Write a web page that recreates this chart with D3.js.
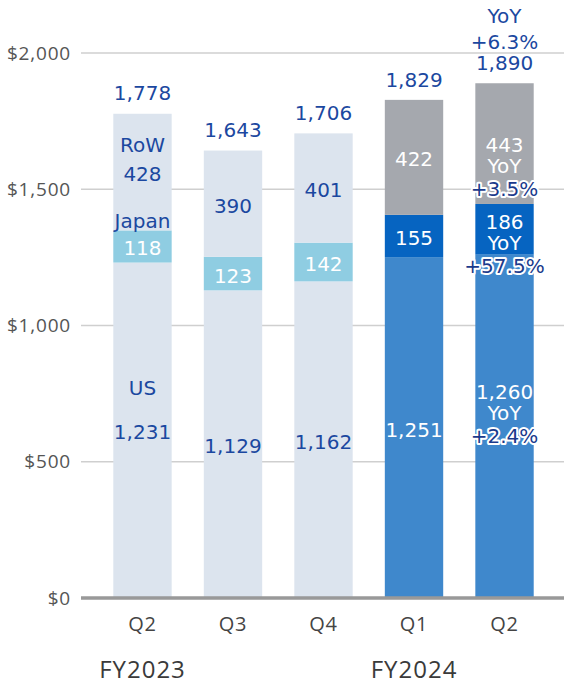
<!DOCTYPE html>
<html>
<head>
<meta charset="utf-8">
<script src="https://cdn.jsdelivr.net/npm/d3@7"></script>
<style>
  body { margin: 0; background: #fff; }
  svg { display: block; }
</style>
</head>
<body>
<div id="chart"></div>
<script>
// data
const quarters = ["Q2", "Q3", "Q4", "Q1", "Q2"];
const fiscalYears = ["FY2023", "FY2023", "FY2023", "FY2024", "FY2024"];
const usValues = [1231, 1129, 1162, 1251, 1260];
const japanValues = [118, 123, 142, 155, 186];
const rowValues = [428, 390, 401, 422, 443];
const totals = [1778, 1643, 1706, 1829, 1890];
const yTicks = [0, 500, 1000, 1500, 2000];
const seriesNames = ["US", "Japan", "RoW"];
// YoY growth for the latest quarter
const yoyTotal = "+6.3%";
const yoySeries = { US: "+2.4%", Japan: "+57.5%", RoW: "+3.5%" };

const width = 564, height = 684;

const svg = d3.select("#chart").append("svg")
    .attr("width", width)
    .attr("height", height);

const x = d3.scaleBand()
    .domain(d3.range(quarters.length))
    .range([97, 550])
    .paddingInner(0.355)
    .paddingOuter(0.18);

const y = d3.scaleLinear()
    .domain([0, 2000])
    .range([598, 53]);

const numFont = "'DejaVu Sans', Verdana, sans-serif";
const axisFont = "'Open Sans', 'Noto Sans', sans-serif";
const darkBlue = "#1b48a0";

// colours: old fiscal year greyed out, new one highlighted
const colors = {
  FY2023: { US: "#dce4ee", Japan: "#8fcde2", RoW: "#dce4ee" },
  FY2024: { US: "#3f88cc", Japan: "#0664c1", RoW: "#a5a8ae" }
};

// gridlines + y labels
svg.append("g")
  .selectAll("line")
  .data(yTicks.filter(d => d > 0))
  .join("line")
    .attr("x1", 81).attr("x2", width)
    .attr("y1", d => y(d)).attr("y2", d => y(d))
    .attr("stroke", "#cfcfcf")
    .attr("stroke-width", 1.5);

svg.append("g")
  .selectAll("text")
  .data(yTicks)
  .join("text")
    .attr("x", 71)
    .attr("y", d => y(d) + 6.5)
    .attr("text-anchor", "end")
    .attr("font-family", axisFont)
    .attr("font-size", 19)
    .attr("letter-spacing", 0.8)
    .attr("fill", "#555")
    .text(d => "$" + d3.format(",")(d));

// stack the segments
const rows = quarters.map((q, i) => ({
  i: i, fy: fiscalYears[i], US: usValues[i], Japan: japanValues[i], RoW: rowValues[i]
}));
const stacked = d3.stack().keys(seriesNames)(rows);

stacked.forEach(function (layer) {
  svg.append("g")
    .selectAll("rect")
    .data(layer)
    .join("rect")
      .attr("x", d => x(d.data.i))
      .attr("width", x.bandwidth())
      .attr("y", d => y(d[1]))
      .attr("height", d => y(d[0]) - y(d[1]))
      .attr("fill", d => colors[d.data.fy][layer.key]);
});

// baseline
svg.append("line")
  .attr("x1", 81).attr("x2", width)
  .attr("y1", y(0)).attr("y2", y(0))
  .attr("stroke", "#999")
  .attr("stroke-width", 3.5);

function label(cx, cy, txt, fill, halo) {
  const t = svg.append("text")
    .attr("x", cx)
    .attr("y", cy + 7)
    .attr("text-anchor", "middle")
    .attr("font-family", numFont)
    .attr("font-size", 20)
    .attr("fill", fill)
    .text(txt);
  if (halo) {
    t.attr("stroke", "#fff")
     .attr("stroke-width", 4)
     .attr("stroke-linejoin", "round")
     .attr("paint-order", "stroke")
     .attr("fill", "#1a3a8c");
  }
  return t;
}

// segment labels
stacked.forEach(function (layer) {
  layer.forEach(function (d) {
    const i = d.data.i;
    const cx = x(i) + x.bandwidth() / 2;
    const mid = (y(d[0]) + y(d[1])) / 2;
    const val = d3.format(",")(d.data[layer.key]);
    let fill = darkBlue;
    if (d.data.fy === "FY2024" || layer.key === "Japan") fill = "#fff";

    if (i === quarters.length - 1) {
      // latest quarter: value, then YoY lines
      let start = mid + 1;
      if (layer.key === "Japan") start = mid - 7;
      if (layer.key === "US") start = mid - 34;
      label(cx, start, val, fill);
      label(cx, start + 21, "YoY", "#fff");
      label(cx, start + 44, yoySeries[layer.key], "#fff", true);
    } else {
      label(cx, mid + 2, val, fill);
    }

    // series names on the first bar
    if (i === 0) {
      if (layer.key === "RoW") label(cx, mid - 27, "RoW", darkBlue);
      if (layer.key === "Japan") label(cx, y(d[1]) - 9, "Japan", darkBlue);
      if (layer.key === "US") label(cx, mid - 42, "US", darkBlue);
    }
  });
});

// totals on top
totals.forEach(function (t, i) {
  const cx = x(i) + x.bandwidth() / 2;
  label(cx, y(t) - 20, d3.format(",")(t), darkBlue);
  if (i === totals.length - 1) {
    label(cx, y(t) - 41, yoyTotal, darkBlue);
    label(cx, y(t) - 67, "YoY", darkBlue);
  }
});

// quarter labels
svg.append("g")
  .selectAll("text")
  .data(quarters)
  .join("text")
    .attr("x", (d, i) => x(i) + x.bandwidth() / 2)
    .attr("y", 631)
    .attr("text-anchor", "middle")
    .attr("font-family", axisFont)
    .attr("font-size", 20)
    .attr("letter-spacing", 0.8)
    .attr("fill", "#444")
    .text(d => d);

// fiscal year labels under the first quarter of each year
const fyStarts = fiscalYears.map((f, i) => ({ f: f, i: i }))
  .filter((d, k) => k === 0 || fiscalYears[k - 1] !== d.f);

svg.append("g")
  .selectAll("text")
  .data(fyStarts)
  .join("text")
    .attr("x", d => x(d.i) + x.bandwidth() / 2)
    .attr("y", 678)
    .attr("text-anchor", "middle")
    .attr("font-family", axisFont)
    .attr("font-size", 24)
    .attr("letter-spacing", 1)
    .attr("fill", "#3a3a3a")
    .text(d => d.f);
</script>
</body>
</html>
